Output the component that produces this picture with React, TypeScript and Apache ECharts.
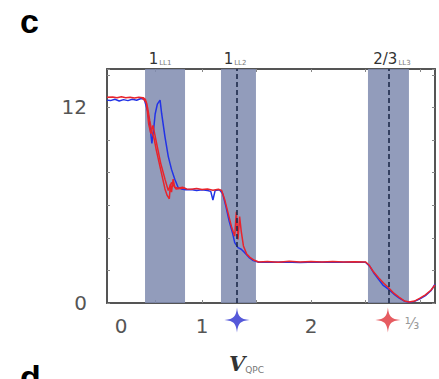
import React, { useEffect, useRef } from "react";
import * as echarts from "echarts";

// Gate sweeps: [V_QPC, signal]
const redSweep: number[][] = [
  [0.128, 12.62], [0.18, 12.64], [0.22, 12.6], [0.26, 12.66], [0.3, 12.6], [0.34, 12.63],
  [0.38, 12.58], [0.42, 12.62], [0.46, 12.6], [0.48, 12.5], [0.5, 12.0], [0.52, 11.2],
  [0.54, 10.5], [0.56, 10.1], [0.58, 9.4], [0.6, 8.8], [0.62, 8.2], [0.64, 7.6], [0.66, 7.0],
  [0.68, 6.6], [0.7, 6.4], [0.71, 7.3], [0.72, 6.8], [0.735, 7.6], [0.75, 7.1], [0.78, 7.05],
  [0.82, 7.1], [0.86, 7.0], [0.9, 6.98], [0.95, 7.02], [1.0, 6.96], [1.05, 7.0], [1.1, 6.92],
  [1.15, 6.98], [1.18, 6.9], [1.21, 6.3], [1.24, 5.5], [1.27, 4.7], [1.3, 4.1], [1.315, 5.6],
  [1.33, 3.9], [1.345, 5.3], [1.36, 4.4], [1.38, 3.5], [1.41, 3.0], [1.44, 2.8], [1.48, 2.62],
  [1.52, 2.52], [1.6, 2.55], [1.7, 2.5], [1.8, 2.56], [1.9, 2.52], [2.0, 2.55], [2.1, 2.51],
  [2.2, 2.54], [2.3, 2.52], [2.4, 2.53], [2.5, 2.52], [2.53, 2.35], [2.57, 1.95], [2.62, 1.55],
  [2.67, 1.2], [2.71, 0.95], [2.76, 0.6], [2.81, 0.35], [2.86, 0.12], [2.9, 0.06], [2.95, 0.12],
  [3.0, 0.3], [3.05, 0.5], [3.1, 0.78], [3.138, 1.1],
];

const redSweep2: number[][] = [
  [0.45, 12.6], [0.49, 12.3], [0.51, 11.0], [0.53, 10.4], [0.55, 10.9], [0.58, 9.9],
  [0.62, 8.6], [0.66, 7.6], [0.69, 6.9], [0.72, 7.4], [0.76, 7.0], [0.84, 7.05],
];

const blueSweep: number[][] = [
  [0.128, 12.45], [0.16, 12.42], [0.2, 12.5], [0.24, 12.4], [0.28, 12.48], [0.32, 12.42],
  [0.36, 12.5], [0.4, 12.44], [0.44, 12.55], [0.47, 12.5], [0.5, 11.8], [0.52, 11.0],
  [0.54, 9.8], [0.555, 10.6], [0.57, 11.6], [0.59, 12.2], [0.615, 12.45], [0.63, 11.6],
  [0.66, 10.2], [0.69, 9.0], [0.72, 8.2], [0.75, 7.6], [0.78, 7.1], [0.81, 7.0], [0.85, 6.95],
  [0.9, 6.97], [0.95, 6.9], [1.0, 6.95], [1.05, 6.9], [1.08, 6.85], [1.1, 6.32], [1.12, 6.9],
  [1.16, 6.95], [1.19, 6.7], [1.22, 5.9], [1.25, 5.0], [1.28, 4.3], [1.3, 3.7], [1.33, 3.4],
  [1.36, 3.3], [1.39, 3.1], [1.43, 2.8], [1.47, 2.6], [1.52, 2.5], [1.6, 2.5], [1.75, 2.52],
  [1.9, 2.49], [2.05, 2.52], [2.2, 2.5], [2.35, 2.51], [2.5, 2.5], [2.54, 2.25], [2.58, 1.8],
  [2.62, 1.45], [2.66, 1.1], [2.71, 0.85], [2.76, 0.55], [2.81, 0.3], [2.86, 0.1], [2.9, 0.05],
  [2.95, 0.1], [3.0, 0.25], [3.05, 0.45], [3.1, 0.75], [3.138, 1.15],
];

// Shaded gate windows [from, to]
const bands: number[][] = [
  [0.477, 0.844],
  [1.174, 1.495],
  [2.523, 2.899],
];

// Dashed markers and the stars beneath them
const dashedAt: number[] = [1.321, 2.706];
const blueStar: number[][] = [[1.321, -1.05]];
const redStar: number[][] = [[2.706, -1.05]];

// Axis tick labels
const xLabelValues: number[] = [0.257, 1, 2, 2.927];
const xLabels: string[] = ["0", "1", "2", "⅓"];
const xTickValues: number[] = [0.57, 1, 1.5, 2, 2.5, 3];
const yLabelValues: number[] = [0, 12];
const topLabelValues: number[] = [0.615, 1.303, 2.743];
const topMain: string[] = ["1", "1", "2/3"];
const topSub: string[] = ["LL1", "LL2", "LL3"];

const X_MIN = 0.128;
const X_MAX = 3.138;
const Y_MIN = 0;
const Y_MAX = 14.36;

const STAR =
  "path://M0,-12 C1,-3 3,-1 12,0 C3,1 1,3 0,12 C-1,3 -3,1 -12,0 C-3,-1 -1,-3 0,-12 Z";

const nearestIndex = (vals: number[], v: number) => {
  let best = 0;
  for (let i = 1; i < vals.length; i++) {
    if (Math.abs(vals[i] - v) < Math.abs(vals[best] - v)) best = i;
  }
  return best;
};

export default function App() {
  const ref = useRef<HTMLDivElement>(null);

  useEffect(() => {
    if (!ref.current) return;
    const chart = echarts.init(ref.current, null, { renderer: "svg" });

    const axisGray = "#555";

    chart.setOption({
      animation: false,
      grid: { left: 107, top: 69, right: 4, bottom: 76, show: false },
      xAxis: [
        {
          type: "value",
          min: X_MIN,
          max: X_MAX,
          position: "bottom",
          splitLine: { show: false },
          axisLine: { show: true, onZero: false, lineStyle: { color: axisGray, width: 2 } },
          axisTick: { show: true, inside: true, length: 3, customValues: xTickValues, lineStyle: { color: "#888" } },
          axisLabel: {
            customValues: xLabelValues,
            margin: 13,
            fontSize: 20,
            fontFamily: "DejaVu Sans",
            color: "#555",
            formatter: (v: number) => {
              const t = xLabels[nearestIndex(xLabelValues, v)];
              return t === "⅓" ? "{f|" + t + "}" : t;
            },
            rich: { f: { fontSize: 15, color: "#999", fontFamily: "DejaVu Sans" } },
          },
        },
        {
          type: "value",
          min: X_MIN,
          max: X_MAX,
          position: "top",
          splitLine: { show: false },
          axisLine: { show: true, onZero: false, lineStyle: { color: axisGray, width: 2 } },
          axisTick: { show: true, inside: true, length: 3, customValues: xTickValues, lineStyle: { color: "#888" } },
          axisLabel: {
            customValues: topLabelValues,
            margin: 3,
            formatter: (v: number) => {
              const idx = nearestIndex(topLabelValues, v);
              return "{n|" + topMain[idx] + "}{s|" + topSub[idx] + "}";
            },
            rich: {
              n: { fontSize: 15, color: "#333", fontFamily: "DejaVu Sans", verticalAlign: "bottom" },
              s: { fontSize: 7, color: "#777", fontFamily: "DejaVu Sans", verticalAlign: "bottom", padding: [0, 0, 0, 1] },
            },
          },
        },
      ],
      yAxis: [
        {
          type: "value",
          min: Y_MIN,
          max: Y_MAX,
          interval: 2,
          splitLine: { show: false },
          axisLine: { show: true, onZero: false, lineStyle: { color: axisGray, width: 2 } },
          axisTick: { show: true, inside: true, length: 3, lineStyle: { color: "#888" } },
          axisLabel: {
            customValues: yLabelValues,
            margin: 20,
            fontSize: 20,
            fontFamily: "DejaVu Sans",
            color: "#555",
          },
        },
        {
          type: "value",
          min: Y_MIN,
          max: Y_MAX,
          interval: 2,
          position: "right",
          splitLine: { show: false },
          axisLine: { show: true, onZero: false, lineStyle: { color: axisGray, width: 2 } },
          axisTick: { show: true, inside: true, length: 3, lineStyle: { color: "#888" } },
          axisLabel: { show: false },
        },
      ],
      series: [
        {
          type: "line",
          data: [],
          silent: true,
          z: 1,
          markArea: {
            silent: true,
            itemStyle: { color: "rgba(128,140,176,0.86)" },
            data: bands.map((b) => [{ xAxis: b[0] }, { xAxis: b[1] }]),
          },
          markLine: {
            silent: true,
            symbol: "none",
            label: { show: false },
            lineStyle: { color: "#1d2a4a", width: 1.6, type: [5, 3] },
            data: dashedAt.map((x) => ({ xAxis: x })),
          },
        },
        {
          type: "line",
          data: blueSweep,
          showSymbol: false,
          z: 3,
          lineStyle: { color: "#2233e6", width: 1.5 },
        },
        {
          type: "line",
          data: redSweep2,
          showSymbol: false,
          z: 4,
          lineStyle: { color: "#e8242c", width: 1.5 },
        },
        {
          type: "line",
          data: redSweep,
          showSymbol: false,
          z: 4,
          lineStyle: { color: "#e8242c", width: 1.5 },
        },
        {
          type: "scatter",
          data: blueStar,
          clip: false,
          symbol: STAR,
          symbolSize: 25,
          itemStyle: { color: "#2a2fd0" },
        },
        {
          type: "scatter",
          data: redStar,
          clip: false,
          symbol: STAR,
          symbolSize: 25,
          itemStyle: { color: "#e0333a" },
        },
      ],
      graphic: [
        {
          type: "text",
          left: 20,
          top: 4,
          style: { text: "c", font: "bold 34px 'Liberation Sans', Arial, sans-serif", fill: "#000" },
        },
        {
          type: "text",
          left: 20,
          top: 360,
          style: { text: "d", font: "bold 34px 'Liberation Sans', Arial, sans-serif", fill: "#000" },
        },
        {
          type: "text",
          left: 229,
          top: 353,
          style: {
            text: "{v|V}{q|QPC}",
            rich: {
              v: { font: "italic bold 21px 'DejaVu Serif', serif", fill: "#333", verticalAlign: "bottom" },
              q: { font: "9px 'DejaVu Sans', sans-serif", fill: "#777", verticalAlign: "bottom" },
            },
          },
        },
      ],
    });

    return () => chart.dispose();
  }, []);

  return (
    <div
      ref={ref}
      style={{ position: "absolute", left: 0, top: 0, width: 439, height: 379 }}
    />
  );
}
